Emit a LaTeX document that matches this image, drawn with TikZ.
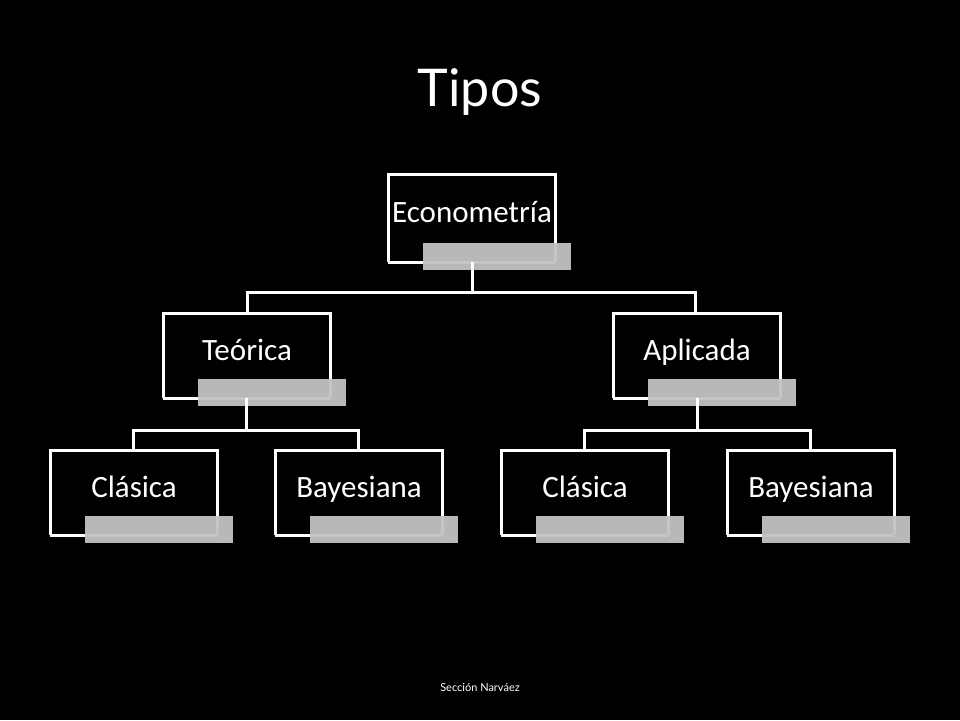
\documentclass[tikz,border=0pt]{standalone}
\usepackage{fontspec}
\setmainfont{Carlito}
\newfontfamily\titlefont{Lato}
\begin{document}
\begin{tikzpicture}[x=1pt,y=-1pt,
  frame/.style={draw=white,line width=3pt},
  graybar/.style={fill=black!24,fill opacity=0.95,draw=none},
  conn/.style={draw=white,line width=3pt},
  lbl/.style={text=white,font=\fontsize{31}{34}\selectfont,inner sep=0pt,anchor=base}]
\fill[black] (0,0) rectangle (960,720);
\useasboundingbox (0,0) rectangle (960,720);
\node[text=white,font=\titlefont\fontsize{52}{56}\selectfont] (title) at (480,92) {Tipos};
\node[text=white,font=\titlefont\fontsize{11}{13}\selectfont] (foot) at (480,688) {Sección Narváez};
\newcommand{\mybox}[6]{%
  \draw[frame] (#1,#2+44+#6) -- (#1,#2) -- (#1+167,#2) -- (#1+167,#2+#6+44);
  \draw[frame] (#1,#2+#6+44) |- (#1+167,#2+#6+44);
  \fill[graybar] (#1+35,#2+#6+25) rectangle (#1+183,#2+#6+52);
  \node[lbl] (#4) at (#1+84,#2+#3) {#5};}
\mybox{388}{174}{48}{eco}{Econometría}{44}
\mybox{163}{313}{47}{teo}{Teórica}{41}
\mybox{613}{313}{47}{apl}{Aplicada}{41}
\mybox{50}{450}{47}{cl1}{Clásica}{41}
\mybox{275}{450}{47}{ba1}{Bayesiana}{41}
\mybox{501}{450}{47}{cl2}{Clásica}{41}
\mybox{727}{450}{47}{ba2}{Bayesiana}{41}
\coordinate (e1) at (472,262); \coordinate (e2) at (472,292);
\coordinate (t0) at (247,292); \coordinate (a0) at (695,292);
\draw[conn] (e1) -- (e2);
\draw[conn] (t0) -- (a0);
\draw[conn] (247,290.5) -- (247,313);
\draw[conn] (695,290.5) -- (695,313);
\draw[conn] (246,398) -- (246,430);
\draw[conn] (133,430) -- (358,430);
\draw[conn] (133,428.5) -- (133,450);
\draw[conn] (358,428.5) -- (358,450);
\draw[conn] (697,398) -- (697,430);
\draw[conn] (584,430) -- (810,430);
\draw[conn] (584,428.5) -- (584,450);
\draw[conn] (810,428.5) -- (810,450);
\end{tikzpicture}
\end{document}
